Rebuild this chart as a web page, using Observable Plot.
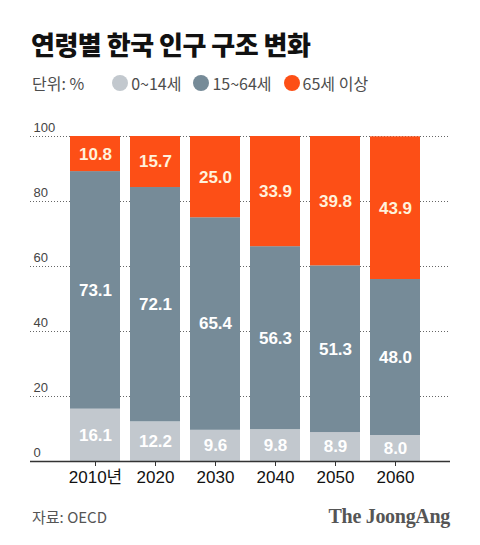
<!DOCTYPE html>
<html><head><meta charset="utf-8">
<script src="https://cdn.jsdelivr.net/npm/d3@7"></script>
<script src="https://cdn.jsdelivr.net/npm/@observablehq/plot@0.6"></script>
<style>
body{margin:0;background:#fff;font-family:"Noto Sans CJK KR","Noto Sans",sans-serif;}
#wrap{position:relative;width:480px;height:545px;overflow:hidden;}
#title{position:absolute;left:31px;top:28px;font-size:26px;font-weight:900;line-height:32px;color:#111;letter-spacing:-0.5px;}
#legend{position:absolute;left:32px;top:72px;font-size:16px;line-height:22px;color:#4d4d4d;display:flex;align-items:center;}
#legend .it{display:flex;align-items:center;margin-right:12px;}
#legend .dot{width:16px;height:16px;border-radius:50%;display:inline-block;margin-right:3px;}
#chart{position:absolute;left:0;top:105px;}
#src{position:absolute;left:32px;top:507px;font-size:15px;line-height:20px;color:#555;}
#brand{position:absolute;right:30px;top:505px;font-size:20px;line-height:22px;color:#555;font-family:"Liberation Serif","DejaVu Serif",serif;font-weight:bold;letter-spacing:-0.3px;}
</style></head>
<body>
<div id="wrap">
  <div id="title">연령별 한국 인구 구조 변화</div>
  <div id="legend"></div>
  <div id="chart"></div>
  <div id="src">자료: OECD</div>
  <div id="brand">The JoongAng</div>
</div>
<script>
const years = ["2010년","2020","2030","2040","2050","2060"];
const groups = ["0~14세","15~64세","65세 이상"];
const young = [16.1,12.2,9.6,9.8,8.9,8.0];
const working = [73.1,72.1,65.4,56.3,51.3,48.0];
const elderly = [10.8,15.7,25.0,33.9,39.8,43.9];
const yTicks = [0,20,40,60,80,100];

const colors = {"0~14세":"#c2c8ce","15~64세":"#768b98","65세 이상":"#fd4f16"};
const labelColors = {"0~14세":"#ffffff","15~64세":"#ffffff","65세 이상":"#fff2dc"};

const series = [young, working, elderly];
const data = [];
years.forEach((yr,i)=>{ groups.forEach((g,j)=>{ data.push({year:yr, group:g, value:series[j][i]}); }); });

const legend = document.getElementById("legend");
legend.innerHTML = '<span style="margin-right:28px">단위: %</span>' +
  groups.map(g=>`<span class="it"><span class="dot" style="background:${colors[g]}"></span>${g}</span>`).join("");

const numFont = '"Liberation Sans","Noto Sans CJK KR",sans-serif';
const chart = Plot.plot({
  width: 480,
  height: 390,
  marginTop: 31,
  marginBottom: 34,
  marginLeft: 30,
  marginRight: 30,
  style: {fontFamily: numFont, background: "transparent"},
  x: {domain: years, range: [70, 420], paddingInner: 1/6, paddingOuter: 0, label: null},
  y: {domain: [0, 100], label: null, axis: null},
  color: {type: "identity"},
  marks: [
    Plot.ruleY(yTicks.filter(d => d > 0), {stroke: "#666", strokeDasharray: "1,2", strokeWidth: 1}),
    Plot.text(yTicks, {y: d => d, text: d => String(d), frameAnchor: "left", textAnchor: "start", dx: 3, dy: -9, fontSize: 13, fill: "#444"}),
    Plot.barY(data, Plot.stackY({x: "year", y: "value", z: "group", order: groups, fill: d => colors[d.group]})),
    Plot.text(data, Plot.stackY({x: "year", y: "value", z: "group", order: groups, text: d => d.value.toFixed(1), fill: d => labelColors[d.group], fontSize: 17, fontWeight: "bold"})),
    Plot.ruleY([0], {stroke: "#333", strokeWidth: 1.5}),
    Plot.axisX({tickSize: 5, tickPadding: 4, fontSize: 17, stroke: "#333", color: "#111", label: null, lineAnchor: "top"})
  ]
});
document.getElementById("chart").appendChild(chart);
</script>
</body></html>
